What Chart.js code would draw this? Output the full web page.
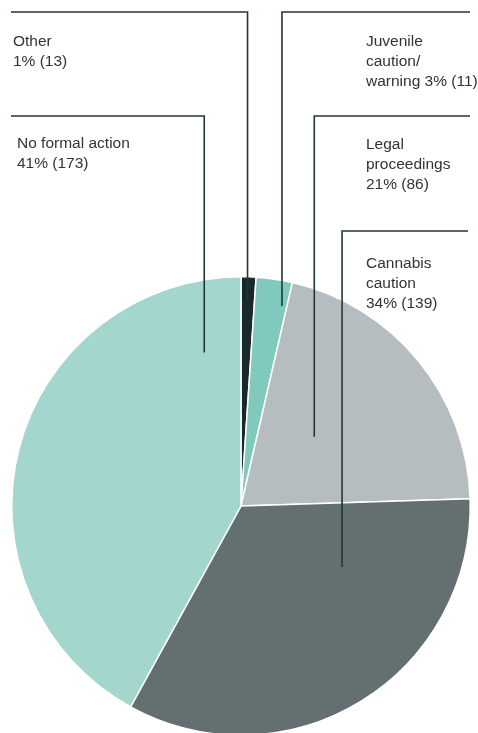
<!DOCTYPE html>
<html>
<head>
<meta charset="utf-8">
<script src="https://cdn.jsdelivr.net/npm/chart.js@4/dist/chart.umd.min.js"></script>
<style>
  html, body { margin: 0; padding: 0; background: #fff; width: 478px; height: 733px; overflow: hidden; }
  #wrap { position: relative; width: 478px; height: 740px; }
</style>
</head>
<body>
<div id="wrap"><canvas id="c" width="478" height="740"></canvas></div>
<script>
// ---- data ----
const categories = ['Other', 'Juvenile caution/warning', 'Legal proceedings', 'Cannabis caution', 'No formal action'];
const sliceShares = [1.05, 2.55, 20.9, 33.5, 42.0];          // slice sizes as drawn (%)
const percentLabels = ['1%', '3%', '21%', '34%', '41%'];     // printed percentages
const counts = [13, 11, 86, 139, 173];                        // printed counts
const labelText = [
  ['Other', '1% (13)'],
  ['Juvenile', 'caution/', 'warning 3% (11)'],
  ['Legal', 'proceedings', '21% (86)'],
  ['Cannabis', 'caution', '34% (139)'],
  ['No formal action', '41% (173)']
];

// ---- styling / layout ----
const colors = ['#18292d', '#80cabd', '#b6bdc0', '#646f72', '#a3d7cd'];
// leader layout: anchor inside slice (fraction along slice, fraction of radius),
// horizontal rule y, rule extent, text position
const leaders = [
  { t: 0.48, r: 0.90, ruleY: 12,  ruleEnd: 11,  textX: 13,  textY: 46 },
  { t: 0.85, r: 0.89, ruleY: 12,  ruleEnd: 470, textX: 366, textY: 46 },
  { t: 0.447, r: 0.44, ruleY: 116, ruleEnd: 470, textX: 366, textY: 149 },
  { t: 0.273, r: 0.515, ruleY: 231, ruleEnd: 468, textX: 366, textY: 268 },
  { t: 0.911, r: 0.689, ruleY: 116, ruleEnd: 11,  textX: 17,  textY: 148 }
];

const leaderPlugin = {
  id: 'leaders',
  afterDatasetsDraw(chart) {
    const ctx = chart.ctx;
    const arcs = chart.getDatasetMeta(0).data;
    ctx.save();
    arcs.forEach((arc, i) => {
      const L = leaders[i];
      const p = arc.getProps(['x', 'y', 'startAngle', 'endAngle', 'outerRadius'], true);
      const a = p.startAngle + (p.endAngle - p.startAngle) * L.t;
      const ax = p.x + Math.cos(a) * p.outerRadius * L.r;
      const ay = p.y + Math.sin(a) * p.outerRadius * L.r;
      ctx.strokeStyle = '#23363a';
      ctx.lineWidth = 1.6;
      ctx.beginPath();
      ctx.moveTo(L.ruleEnd, L.ruleY);
      ctx.lineTo(ax, L.ruleY);
      ctx.lineTo(ax, ay);
      ctx.stroke();
      ctx.fillStyle = '#333';
      ctx.font = '15.5px "Liberation Sans", Arial, sans-serif';
      ctx.textBaseline = 'alphabetic';
      ctx.textAlign = 'left';
      labelText[i].forEach((line, k) => {
        ctx.fillText(line, L.textX, L.textY + k * 20);
      });
    });
    ctx.restore();
  }
};

new Chart(document.getElementById('c'), {
  type: 'pie',
  data: {
    labels: categories,
    datasets: [{
      data: sliceShares,
      backgroundColor: colors,
      borderColor: '#ffffff',
      borderWidth: 1.5
    }]
  },
  options: {
    responsive: false,
    devicePixelRatio: 1,
    animation: false,
    layout: { padding: { left: 11, right: 7, top: 276, bottom: 4 } },
    plugins: {
      legend: { display: false },
      tooltip: { enabled: false }
    }
  },
  plugins: [leaderPlugin]
});
</script>
</body>
</html>
